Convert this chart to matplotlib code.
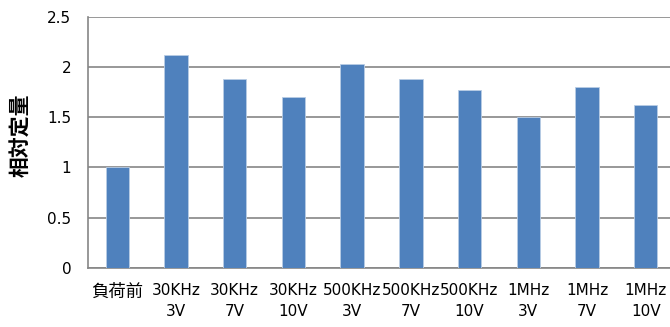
import matplotlib
matplotlib.use("Agg")
import matplotlib.pyplot as plt
import numpy as np

plt.rcParams['font.family'] = ['DejaVu Sans', 'Noto Sans CJK JP']

categories = ["負荷前", "30KHz\n3V", "30KHz\n7V", "30KHz\n10V", "500KHz\n3V",
              "500KHz\n7V", "500KHz\n10V", "1MHz\n3V", "1MHz\n7V", "1MHz\n10V"]
values = [1.00, 2.12, 1.88, 1.70, 2.03, 1.88, 1.77, 1.50, 1.80, 1.62]
yticks = [0, 0.5, 1, 1.5, 2, 2.5]
ytick_labels = ["0", "0.5", "1", "1.5", "2", "2.5"]

fig = plt.figure(figsize=(6.70, 3.27), dpi=100)
ax = fig.add_axes([0.1313, 0.1813, 0.8762, 0.7667])
x = np.arange(len(categories))
ax.bar(x, values, width=0.4, color="#4F81BD", edgecolor="#B9CDE5", linewidth=0.6, zorder=3)
ax.set_xlim(-0.5, len(categories) - 0.5)
ax.set_ylim(0, 2.5)
ax.set_yticks(yticks)
ax.set_yticklabels(ytick_labels, fontsize=11)
ax.set_xticks(x)
labels = ax.set_xticklabels(categories, fontsize=11, linespacing=1.5)
labels[0].set_fontsize(12.5)
labels[0].set_family(['Noto Sans CJK JP', 'DejaVu Sans'])
ax.tick_params(axis='x', length=0, pad=11)
ax.tick_params(axis='y', length=0, pad=12)
ax.grid(axis='y', color="#868686", linewidth=1.2, zorder=0)
for s in ['top', 'right']:
    ax.spines[s].set_visible(False)
for s in ['left', 'bottom']:
    ax.spines[s].set_color("#868686")
    ax.spines[s].set_linewidth(1.2)
fig.text(21 / 670, 1 - 135 / 327, "相対定量", rotation=90, fontsize=15,
         fontweight='bold', family=['Noto Sans CJK JP', 'DejaVu Sans'],
         ha='center', va='center')
fig.savefig("out.png", dpi=100)
